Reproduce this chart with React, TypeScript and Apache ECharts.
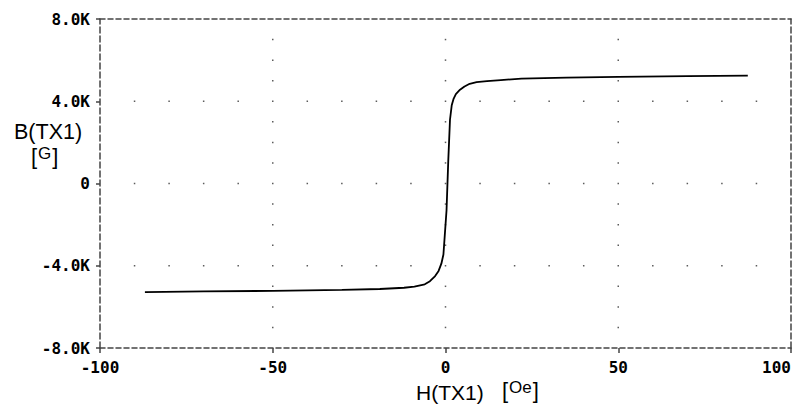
import React, { useEffect, useRef } from "react";
import * as echarts from "echarts";

// H field [Oe] and flux density B [G]
const hValues = [-87, -70, -50, -30, -19, -12, -9, -6, -4.5, -3, -2, -1.2, -0.6, -0.2, 0.3, 0.8, 1.3, 1.8, 2.3, 3, 4.2, 5.5, 7, 9, 12, 16, 22, 35, 50, 70, 87.5];
const bValues = [-5280, -5250, -5220, -5170, -5130, -5070, -5020, -4900, -4750, -4500, -4250, -3900, -3450, -2500, -1300, 1100, 3100, 3800, 4100, 4350, 4560, 4720, 4850, 4930, 4980, 5030, 5100, 5150, 5190, 5220, 5250];

const xTicks = [-100, -50, 0, 50, 100];
const yTicks = [-8000, -4000, 0, 4000, 8000];
const xGridLines = [-50, 0, 50];
const yGridLines = [-4000, 0, 4000];
const xDotStep = 10;
const yDotStep = 1000;

const xTitle = "H(TX1)";
const xUnit = "Oe";
const yTitle = "B(TX1)";
const yUnit = "G";

export default function App() {
  const ref = useRef<HTMLDivElement>(null);
  useEffect(() => {
    if (!ref.current) return;
    const chart = echarts.init(ref.current, null, { renderer: "svg" });

    const dots: number[][] = [];
    for (const y of yGridLines) {
      for (let x = xTicks[0] + xDotStep; x < xTicks[xTicks.length - 1]; x += xDotStep) dots.push([x, y]);
    }
    for (const x of xGridLines) {
      for (let y = yTicks[0] + yDotStep; y < yTicks[yTicks.length - 1]; y += yDotStep) {
        if (!yGridLines.includes(y)) dots.push([x, y]);
      }
    }

    const tickFont = {
      fontFamily: "'DejaVu Sans Mono', monospace",
      fontWeight: "bold" as const,
      fontSize: 16,
      color: "#000",
    };
    const frameH = { color: "#444", width: 1.5, type: [5, 3] as any };
    const frameV = { color: "#444", width: 1.5, type: [6, 3] as any };

    const titleFont = "'Liberation Sans', Arial, sans-serif";
    const unitRich = {
      b: { fontSize: 22, fontFamily: titleFont, color: "#000", verticalAlign: "middle" as const },
      u: { fontSize: 17, fontFamily: titleFont, color: "#000", verticalAlign: "top" as const, padding: [0, 1, 5, 1] },
    };

    chart.setOption({
      animation: false,
      backgroundColor: "#fff",
      grid: { left: 100, right: 6, top: 19, bottom: 61, outerBoundsMode: "none", containLabel: false },
      xAxis: [
        {
          type: "value",
          min: -100,
          max: 100,
          interval: 50,
          axisLine: { show: true, onZero: false, lineStyle: frameH },
          axisTick: { show: true, length: 5, lineStyle: { color: "#444", width: 1.5 } },
          axisLabel: { ...tickFont, margin: 11, showMinLabel: true, showMaxLabel: true, alignMaxLabel: "right" },
          splitLine: { show: false },
        },
        {
          type: "value",
          position: "top",
          min: -100,
          max: 100,
          axisLine: { show: true, onZero: false, lineStyle: frameH },
          axisTick: { show: false },
          axisLabel: { show: false },
          splitLine: { show: false },
        },
      ],
      yAxis: [
        {
          type: "value",
          min: -8000,
          max: 8000,
          interval: 4000,
          axisLine: { show: true, onZero: false, lineStyle: frameV },
          axisTick: { show: true, length: 4, lineStyle: { color: "#444", width: 1.5 } },
          axisLabel: {
            ...tickFont,
            margin: 10,
            formatter: (v: number) => (v === 0 ? "0" : (v / 1000).toFixed(1) + "K"),
          },
          splitLine: { show: false },
        },
        {
          type: "value",
          position: "right",
          min: -8000,
          max: 8000,
          axisLine: { show: true, onZero: false, lineStyle: frameV },
          axisTick: { show: false },
          axisLabel: { show: false },
          splitLine: { show: false },
        },
      ],
      series: [
        {
          type: "scatter",
          data: dots,
          symbol: "rect",
          symbolSize: 1.5,
          itemStyle: { color: "#333" },
          silent: true,
        },
        {
          type: "line",
          data: hValues.map((h, i) => [h, bValues[i]]),
          showSymbol: false,
          symbol: "none",
          lineStyle: { color: "#000", width: 1.8 },
          silent: true,
        },
      ],
      graphic: [
        {
          type: "text",
          left: 14,
          top: 121,
          style: { text: yTitle, fontSize: 21.5, fontFamily: titleFont, fill: "#000" },
        },
        {
          type: "text",
          left: 31,
          top: 145,
          style: { text: "{b|[}{u|" + yUnit + "}{b|]}", rich: unitRich as any },
        },
        {
          type: "text",
          left: 416,
          top: 382,
          style: { text: xTitle, fontSize: 21, fontFamily: titleFont, fill: "#000" },
        },
        {
          type: "text",
          left: 502,
          top: 379,
          style: { text: "{b|[}{u|" + xUnit + "}{b|]}", rich: unitRich as any },
        },
      ],
    });
    return () => chart.dispose();
  }, []);
  return (
    <div
      ref={ref}
      style={{ position: "absolute", left: 0, top: 0, width: 797, height: 409, background: "#fff" }}
    />
  );
}
